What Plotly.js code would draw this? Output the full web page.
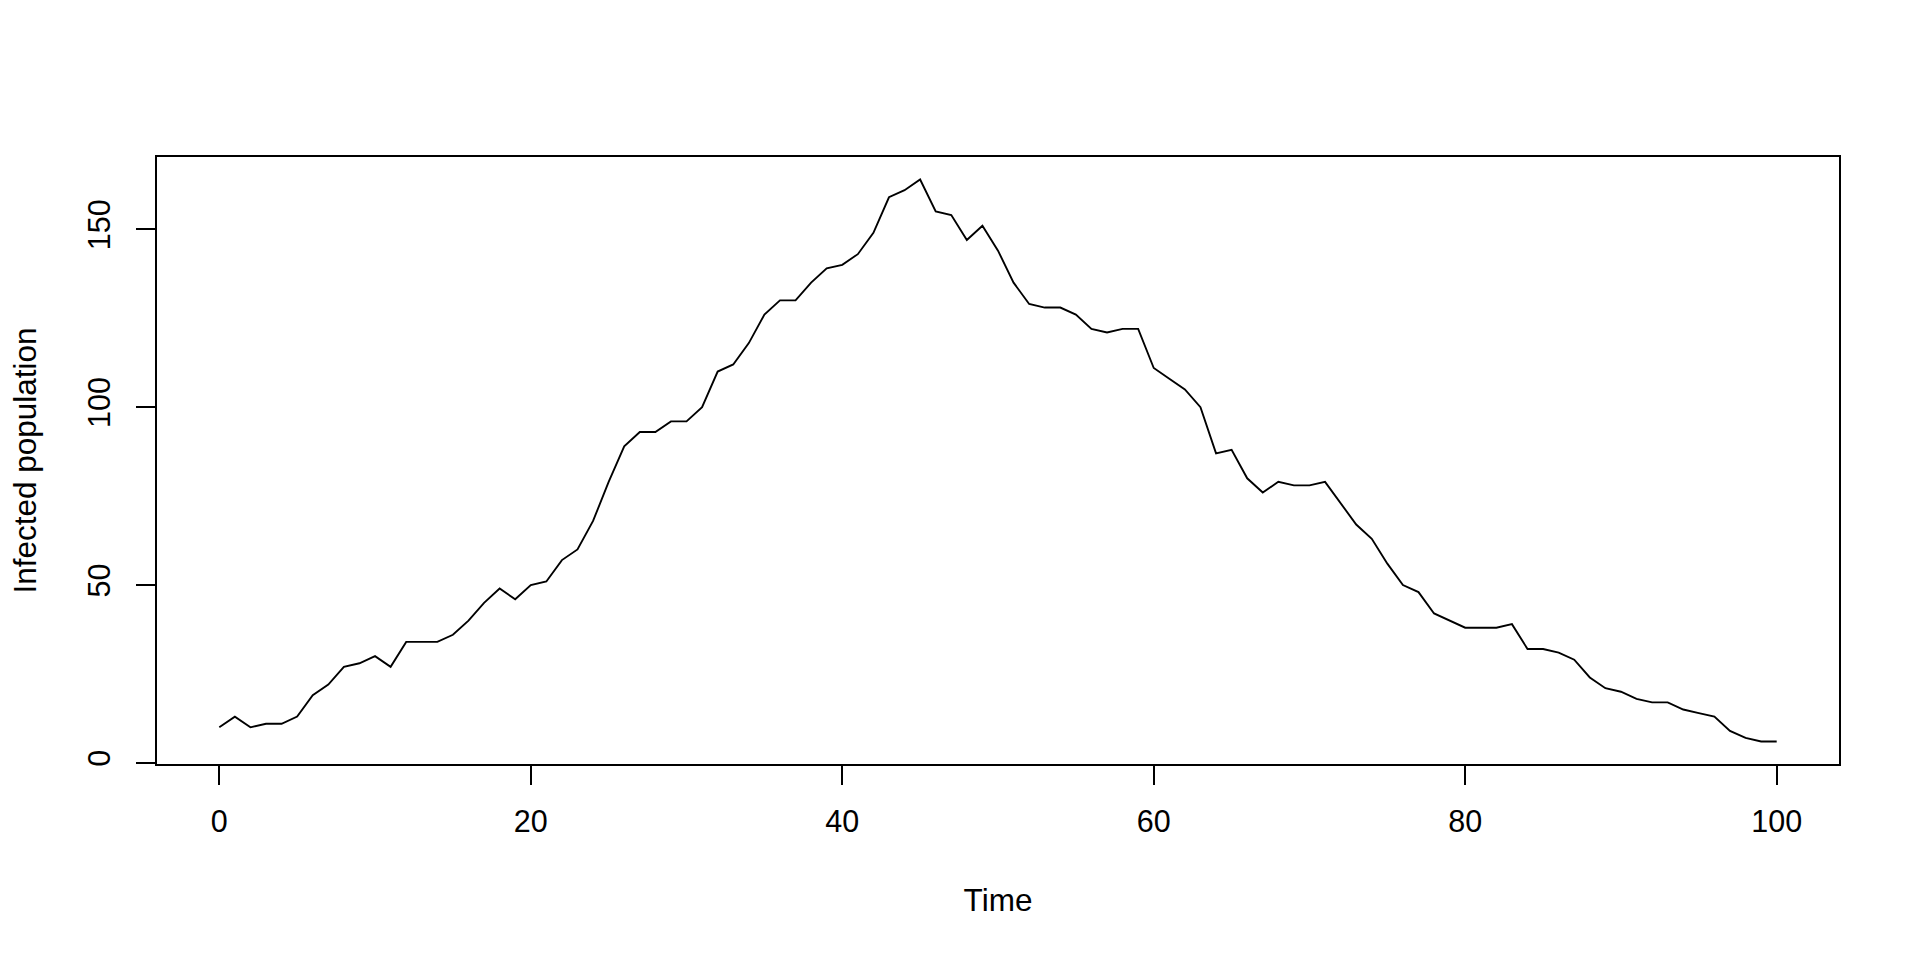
<!DOCTYPE html>
<html>
<head>
<meta charset="utf-8">
<script src="https://cdn.plot.ly/plotly-3.0.1.min.js"></script>
<style>
html, body { margin: 0; padding: 0; background: #ffffff; }
#chart { width: 1920px; height: 960px; }
</style>
</head>
<body>
<div id="chart"></div>
<script>
// Time steps
const time = [
  0, 1, 2, 3, 4, 5, 6, 7, 8, 9,
  10, 11, 12, 13, 14, 15, 16, 17, 18, 19,
  20, 21, 22, 23, 24, 25, 26, 27, 28, 29,
  30, 31, 32, 33, 34, 35, 36, 37, 38, 39,
  40, 41, 42, 43, 44, 45, 46, 47, 48, 49,
  50, 51, 52, 53, 54, 55, 56, 57, 58, 59,
  60, 61, 62, 63, 64, 65, 66, 67, 68, 69,
  70, 71, 72, 73, 74, 75, 76, 77, 78, 79,
  80, 81, 82, 83, 84, 85, 86, 87, 88, 89,
  90, 91, 92, 93, 94, 95, 96, 97, 98, 99,
  100
];

// Infected population
const infected = [
  10, 13, 10, 11, 11, 13, 19, 22, 27, 28,
  30, 27, 34, 34, 34, 36, 40, 45, 49, 46,
  50, 51, 57, 60, 68, 79, 89, 93, 93, 96,
  96, 100, 110, 112, 118, 126, 130, 130, 135, 139,
  140, 143, 149, 159, 161, 164, 155, 154, 147, 151,
  144, 135, 129, 128, 128, 126, 122, 121, 122, 122,
  111, 108, 105, 100, 87, 88, 80, 76, 79, 78,
  78, 79, 73, 67, 63, 56, 50, 48, 42, 40,
  38, 38, 38, 39, 32, 32, 31, 29, 24, 21,
  20, 18, 17, 17, 15, 14, 13, 9, 7, 6,
  6
];

const xTicks = [0, 20, 40, 60, 80, 100];
const yTicks = [0, 50, 100, 150];

const FONT = "Liberation Sans, Arial, Helvetica, sans-serif";

const trace = {
  x: time,
  y: infected,
  type: "scatter",
  mode: "lines",
  line: { color: "#000000", width: 1.875 },
  hoverinfo: "x+y",
  showlegend: false
};

const layout = {
  width: 1920,
  height: 960,
  paper_bgcolor: "#ffffff",
  plot_bgcolor: "#ffffff",
  margin: { l: 157, r: 81, t: 157, b: 196, pad: 0 },
  font: { family: FONT, size: 30, color: "#000000" },
  showlegend: false,
  xaxis: {
    range: [-4, 104],
    tickmode: "array",
    tickvals: xTicks,
    ticktext: xTicks.map(String),
    ticks: "outside",
    ticklen: 19,
    tickwidth: 2,
    tickcolor: "#000000",
    showline: true,
    linecolor: "#000000",
    linewidth: 2,
    mirror: true,
    showgrid: false,
    zeroline: false,
    tickfont: { family: FONT, size: 30.5, color: "#000000" },
    ticklabelstandoff: 10,
    title: { text: "Time", font: { family: FONT, size: 31.5, color: "#000000" }, standoff: 52 },
    automargin: false
  },
  yaxis: {
    range: [-0.32, 170.32],
    tickmode: "array",
    tickvals: yTicks,
    ticktext: yTicks.map(String),
    ticks: "outside",
    ticklen: 19,
    tickwidth: 2,
    tickcolor: "#000000",
    tickangle: -90,
    showline: true,
    linecolor: "#000000",
    linewidth: 2,
    mirror: true,
    showgrid: false,
    zeroline: false,
    tickfont: { family: FONT, size: 30.5, color: "#000000" },
    ticklabelstandoff: 14,
    title: { text: "Infected population", font: { family: FONT, size: 31.5, color: "#000000" }, standoff: 36 },
    automargin: false
  }
};

Plotly.newPlot("chart", [trace], layout, { displayModeBar: false, staticPlot: false });
</script>
</body>
</html>
